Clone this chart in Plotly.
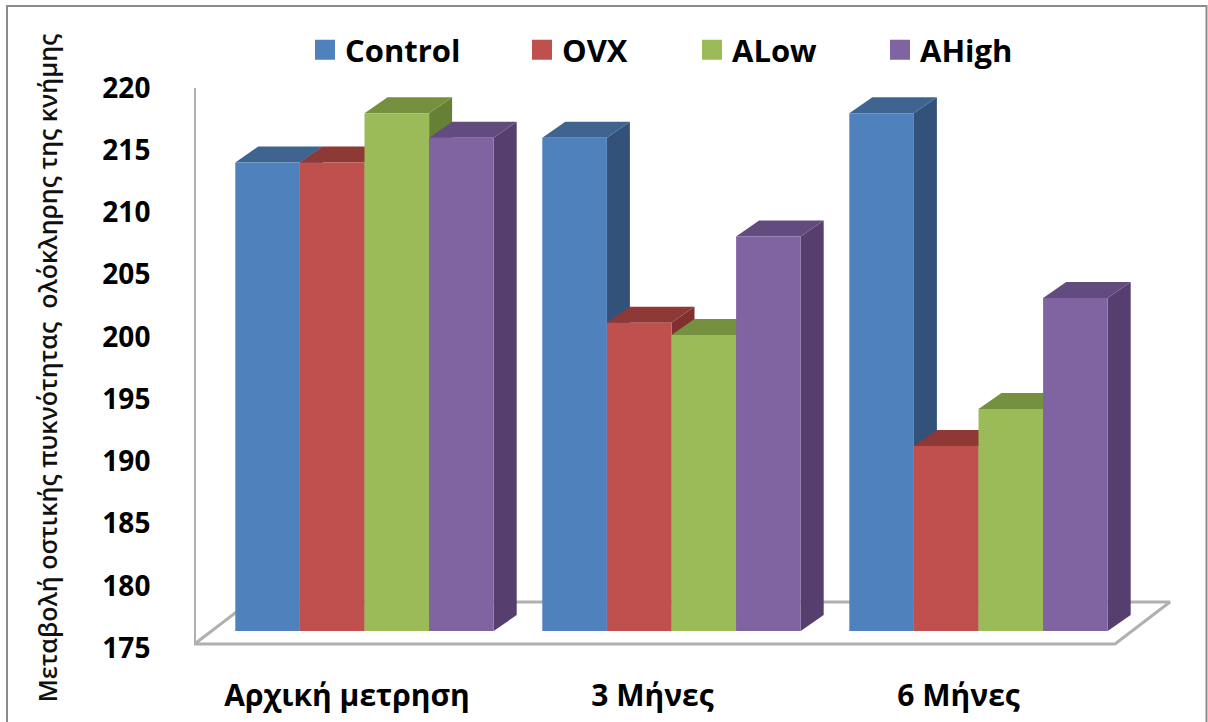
import plotly.graph_objects as go

categories = ["Αρχική μετρηση", "3 Μήνες", "6 Μήνες"]
series_names = ["Control", "OVX", "ALow", "AHigh"]
control = [213, 215, 217]
ovx = [213, 200, 190]
alow = [217, 199, 193]
ahigh = [215, 207, 202]
series_values = [control, ovx, alow, ahigh]
y_ticks = [175, 180, 185, 190, 195, 200, 205, 210, 215, 220]
y_title = "Μεταβολή οστικής πυκνότητας  ολόκληρης της κνήμης"

front = ["#4F81BD", "#C0504D", "#9BBB59", "#8064A2"]
top = ["#3F648F", "#8F3937", "#75903F", "#624C7F"]
side = ["#32527A", "#80312F", "#668036", "#563F6E"]
GREY = "#B0B0B0"
FONT = "Open Sans"

W, H = 1208, 722
L, R, T, B = 194, 1190, 88, 648
GROUP_PX = 307.0          # px between groups
ZERO_PX = 364.5           # px of group 0 centre
BAR_PX = 64.6
Y_PX = 12.33              # px per value unit
BASE = 175
BASE_PX = 631             # px of value 175 on bar plane
DX, DY = 23 / GROUP_PX, 16 / Y_PX     # bar depth in data units
BW = BAR_PX / GROUP_PX


def xd(px):
    return (px - ZERO_PX) / GROUP_PX


def yd(px):
    return BASE + (BASE_PX - px) / Y_PX


def px_paper_x(px):
    return (px - L) / (R - L)


def px_paper_y(px):
    return (B - px) / (B - T)


xr = [xd(L), xd(R)]
yr = [yd(B), yd(T)]
fig = go.Figure()

# floor and wall: derived from the axis frame
fl, fr, fb, bb = xd(194.5), xd(1115), yd(644), yd(602)
off = 55 / GROUP_PX
fig.add_trace(go.Scatter(
    x=[fl, fl, fr, fr + off, fl + off, fl],
    y=[yd(T), fb, fb, bb, bb, fb],
    mode="lines", line=dict(color=GREY, width=3), showlegend=False,
    hoverinfo="skip", xaxis="x", yaxis="y", cliponaxis=False))

# receding faces, back layer
for g in range(len(categories)):
    for s, vals in enumerate(series_values):
        x0 = g + (s - 2) * BW
        x1 = x0 + BW
        v = vals[g]
        fig.add_trace(go.Scatter(
            x=[x1, x1 + DX, x1 + DX, x1, x1],
            y=[BASE, BASE + DY, v + DY, v, BASE],
            fill="toself", fillcolor=side[s], mode="lines", line=dict(width=0),
            showlegend=False, hoverinfo="skip", xaxis="x", yaxis="y"))
        fig.add_trace(go.Scatter(
            x=[x0, x0 + DX, x1 + DX, x1, x0],
            y=[v, v + DY, v + DY, v, v],
            fill="toself", fillcolor=top[s], mode="lines", line=dict(width=0),
            showlegend=False, hoverinfo="skip", xaxis="x", yaxis="y"))

# front faces
for s, vals in enumerate(series_values):
    fig.add_trace(go.Bar(
        x=[g + (s - 1.5) * BW for g in range(len(categories))],
        y=[v - BASE for v in vals], base=BASE, width=BW,
        marker=dict(color=front[s], line=dict(width=0)),
        name=series_names[s], showlegend=False, xaxis="x2", yaxis="y2"))

# legend: one legend per series so each sits where the reference has it
legend_px = [305, 522, 692, 880]
layout_legends = {}
for s, name in enumerate(series_names):
    key = "legend" if s == 0 else f"legend{s + 1}"
    fig.add_trace(go.Scatter(
        x=[None], y=[None], mode="markers", name=name, legend=key,
        marker=dict(symbol="square", size=16, color=front[s],
                    line=dict(color=front[s], width=4)),
        xaxis="x", yaxis="y"))
    layout_legends[key] = dict(
        x=px_paper_x(legend_px[s]), y=px_paper_y(50), xanchor="left", yanchor="middle",
        bgcolor="rgba(0,0,0,0)", borderwidth=0,
        font=dict(family=FONT, size=31, color="black", weight=700))

# invisible trace activating the value axis
fig.add_trace(go.Scatter(x=[None], y=[None], xaxis="x", yaxis="y3", showlegend=False))

label_pos = [-0.057, 0.938, 1.935]
tick_font = dict(family=FONT, size=28, color="black", weight=700)
cat_font = dict(family=FONT, size=30, color="black", weight=700)

fig.update_layout(
    width=W, height=H, autosize=False,
    margin=dict(l=L, r=W - R, t=T, b=H - B, autoexpand=False),
    paper_bgcolor="white", plot_bgcolor="white",
    barmode="overlay", hovermode=False,
    xaxis=dict(range=xr, tickmode="array", tickvals=label_pos, ticktext=categories,
               tickfont=cat_font, showgrid=False, zeroline=False, showline=False,
               ticks="outside", ticklen=21, tickcolor="rgba(0,0,0,0)"),
    yaxis=dict(range=yr, visible=False, showgrid=False, zeroline=False),
    xaxis2=dict(range=xr, overlaying="x", visible=False, showgrid=False, zeroline=False),
    yaxis2=dict(range=yr, overlaying="y", anchor="x2", visible=False, showgrid=False, zeroline=False),
    yaxis3=dict(range=[175, 220], overlaying="y", anchor="x", side="left",
                tickmode="array", tickvals=y_ticks, tickfont=tick_font,
                showgrid=False, zeroline=False, showline=False,
                ticks="outside", ticklen=37, tickcolor="rgba(0,0,0,0)",
                title=dict(text=y_title, standoff=37,
                           font=dict(family=FONT, size=25, color="#111111", weight=600))),
    shapes=[dict(type="rect", xref="paper", yref="paper",
                 x0=px_paper_x(7), x1=px_paper_x(1206.5),
                 y0=px_paper_y(800), y1=px_paper_y(6),
                 line=dict(color="#8C8C8C", width=2), fillcolor="rgba(0,0,0,0)", layer="below")],
    **layout_legends,
)

fig.write_html("out.html", config={"displayModeBar": False},
               post_script="document.body.style.margin='0';")
